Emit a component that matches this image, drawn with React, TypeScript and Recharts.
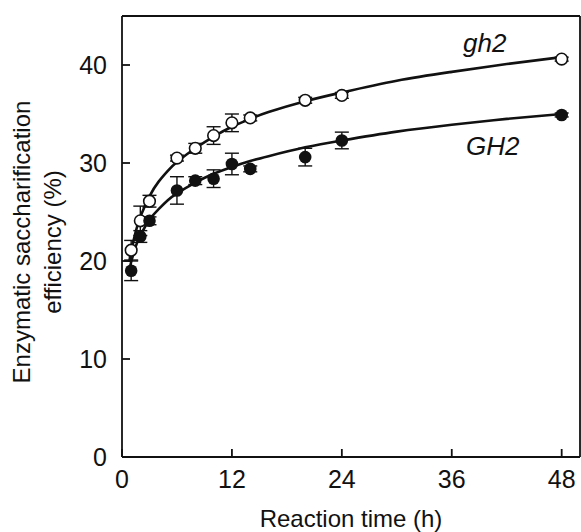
import {
  ComposedChart,
  ErrorBar,
  Line,
  ReferenceLine,
  Scatter,
  XAxis,
  YAxis,
} from "recharts";

// sampling times (h)
const times = [1, 2, 3, 6, 8, 10, 12, 14, 20, 24, 48];

// mutant gh2 (open circles)
const gh2Values = [21.1, 24.1, 26.1, 30.5, 31.5, 32.8, 34.1, 34.6, 36.4, 36.9, 40.6];
const gh2Errors = [1.0, 1.5, 0.6, 0.3, 0.5, 0.9, 0.9, 0.3, 0.3, 0.3, 0.2];

// wild type GH2 (filled circles)
const GH2Values = [19.0, 22.5, 24.1, 27.2, 28.2, 28.4, 29.9, 29.4, 30.6, 32.3, 34.9];
const GH2Errors = [1.0, 0.6, 0.4, 1.4, 0.4, 0.9, 1.1, 0.3, 0.9, 0.85, 0.2];

// fitted curves
const curveTimes = [0.8, 1, 1.5, 2, 3, 4, 5, 6, 8, 10, 12, 14, 16, 20, 24, 30, 36, 42, 48];
const gh2Curve = [19.9, 21.0, 23.0, 24.5, 26.6, 28.1, 29.2, 30.1, 31.5, 32.7, 33.7, 34.5, 35.2, 36.3, 37.2, 38.4, 39.3, 40.1, 40.8];
const GH2Curve = [19.0, 19.9, 21.5, 22.6, 24.2, 25.3, 26.2, 26.9, 28.0, 28.9, 29.6, 30.2, 30.7, 31.6, 32.3, 33.2, 33.9, 34.5, 35.0];

const xTicks = [0, 12, 24, 36, 48];
const yTicks = [0, 10, 20, 30, 40];

const gh2Points = times.map((t, i) => ({ t, v: gh2Values[i], e: gh2Errors[i] }));
const GH2Points = times.map((t, i) => ({ t, v: GH2Values[i], e: GH2Errors[i] }));
const gh2Line = curveTimes.map((t, i) => ({ t, v: gh2Curve[i] }));
const GH2Line = curveTimes.map((t, i) => ({ t, v: GH2Curve[i] }));

const FONT = '"Liberation Sans", Arial, sans-serif';
const INK = "#111";

const tickStyle = { fontSize: 25, fill: INK, fontFamily: FONT };

const openDot = (p: any) => (
  <circle cx={p.cx} cy={p.cy} r={5.8} fill="#fff" stroke={INK} strokeWidth={1.6} />
);
const filledDot = (p: any) => <circle cx={p.cx} cy={p.cy} r={6.3} fill={INK} />;

export default function App() {
  return (
    <div
      style={{
        position: "absolute",
        left: 0,
        top: 0,
        width: 581,
        height: 532,
        background: "#fff",
      }}
    >
      <ComposedChart
        width={581}
        height={532}
        margin={{ top: 16, right: 1, bottom: 0, left: 0 }}
      >
        <XAxis
          type="number"
          dataKey="t"
          domain={[0, 50]}
          ticks={xTicks}
          height={75}
          tickSize={-8}
          tickMargin={21}
          tick={tickStyle}
          stroke={INK}
          strokeWidth={1.8}
          allowDuplicatedCategory={false}
        />
        <YAxis
          type="number"
          dataKey="v"
          domain={[0, 45]}
          ticks={yTicks}
          width={122}
          tickSize={-8}
          tickMargin={23}
          tick={tickStyle}
          stroke={INK}
          strokeWidth={1.8}
        />
        <ReferenceLine y={45} stroke={INK} strokeWidth={1.8} />
        <ReferenceLine x={50} stroke={INK} strokeWidth={1.8} />
        <Line
          data={gh2Line}
          dataKey="v"
          type="natural"
          stroke={INK}
          strokeWidth={2.6}
          dot={false}
          isAnimationActive={false}
        />
        <Line
          data={GH2Line}
          dataKey="v"
          type="natural"
          stroke={INK}
          strokeWidth={2.6}
          dot={false}
          isAnimationActive={false}
        />
        <Scatter data={gh2Points} dataKey="v" shape={openDot} isAnimationActive={false}>
          <ErrorBar dataKey="e" direction="y" width={7} stroke={INK} strokeWidth={1.4} />
        </Scatter>
        <Scatter data={GH2Points} dataKey="v" shape={filledDot} isAnimationActive={false}>
          <ErrorBar dataKey="e" direction="y" width={7} stroke={INK} strokeWidth={1.4} />
        </Scatter>
      </ComposedChart>
      <svg
        width={581}
        height={532}
        style={{ position: "absolute", left: 0, top: 0, pointerEvents: "none" }}
        fontFamily={FONT}
        fill={INK}
      >
        <text x={463} y={52} fontSize={26} fontStyle="italic">
          gh2
        </text>
        <text x={466} y={155} fontSize={26} fontStyle="italic">
          GH2
        </text>
        <text x={351} y={527} fontSize={24} textAnchor="middle">
          Reaction time (h)
        </text>
        <g transform="translate(30 242) rotate(-90)">
          <text x={0} y={0} fontSize={24} textAnchor="middle">
            Enzymatic saccharification
          </text>
          <text x={0} y={31} fontSize={24} textAnchor="middle">
            efficiency (%)
          </text>
        </g>
      </svg>
    </div>
  );
}
